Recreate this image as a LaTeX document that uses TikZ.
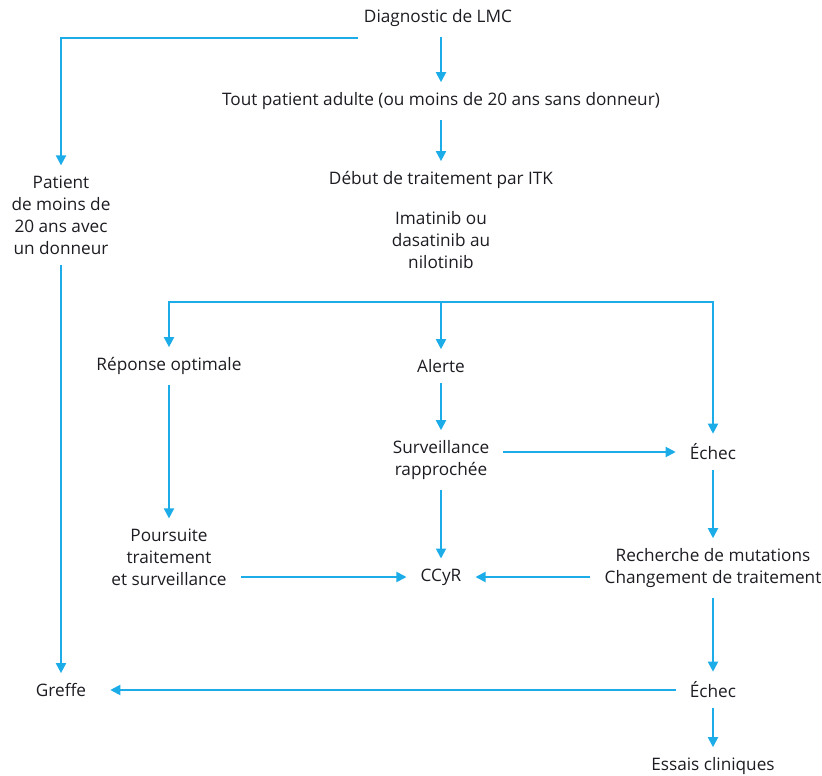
\documentclass[tikz,border=0pt]{standalone}
\usepackage{fontspec}
\setmainfont{Open Sans}
\usetikzlibrary{arrows.meta}
\definecolor{flowcyan}{RGB}{28,172,232}
\definecolor{flowtext}{RGB}{30,28,34}
\begin{document}
\begin{tikzpicture}[x=1pt, y=-1pt,
        lbl/.style={align=center, inner xsep=14pt, inner ysep=10pt, text=flowtext,
            font=\fontsize{17.2}{22}\selectfont},
        arr/.style={-{Stealth[length=10pt, width=10pt, inset=0pt]}, draw=flowcyan,
            line width=1.9pt}]
    \useasboundingbox (0,0) rectangle (822,776);
    \node[lbl] (diag) at (438,18) {Diagnostic de LMC};
    \node[lbl] (tout) at (441,101) {Tout patient adulte (ou moins de 20 ans sans donneur)};
    \node[lbl] (debut) at (441,180) {Début de traitement par ITK};
    \node[lbl, inner ysep=3pt] (itk) at (441,240) {Imatinib ou\\dasatinib au\\nilotinib};
    \node[lbl] (patient) at (61,215) {Patient\\de moins de\\20 ans avec\\un donneur};
    \coordinate (trunk) at (441,302);
    \node[lbl] (reponse) at (169,366) {Réponse optimale};
    \node[lbl] (alerte) at (441,366) {Alerte};
    \node[lbl] (surv) at (441,460) {Surveillance\\rapprochée};
    \node[lbl] (echec) at (713,452) {Échec};
    \node[lbl] (poursuite) at (169,557) {Poursuite\\traitement\\et surveillance};
    \node[lbl] (ccyr) at (441,577) {CCyR};
    \node[lbl] (recherche) at (713,568) {Recherche de mutations\\Changement de traitement};
    \node[lbl] (greffe) at (61,690) {Greffe};
    \node[lbl] (echecb) at (713,690) {Échec};
    \node[lbl] (essais) at (713,766) {Essais cliniques};
    % top
    \draw[arr] ([xshift=8pt,yshift=-1pt]diag.south west) -| (patient.north);
    \draw[arr] (diag.south -| tout) -- (tout);
    \draw[arr] (tout) -- (debut);
    \draw[arr] (patient) -- (greffe);
    % three outcomes
    \draw[arr] (trunk) -| (reponse.north);
    \draw[arr] (trunk) -- (alerte);
    \draw[arr] (trunk) -| (echec.north);
    \draw[arr] (reponse) -- (poursuite);
    \draw[arr] (alerte) -- (surv);
    \draw[arr] (surv.east |- echec) -- (echec);
    \draw[arr] (surv) -- (ccyr);
    \draw[arr] (echec) -- (recherche);
    \draw[arr] (poursuite.east |- ccyr) -- (ccyr);
    \draw[arr] (recherche.west |- ccyr) -- (ccyr);
    \draw[arr] (recherche) -- (echecb);
    \draw[arr] (echecb) -- ([xshift=10pt]greffe.east);
    \draw[arr] (echecb) -- (essais);
\end{tikzpicture}
\end{document}
